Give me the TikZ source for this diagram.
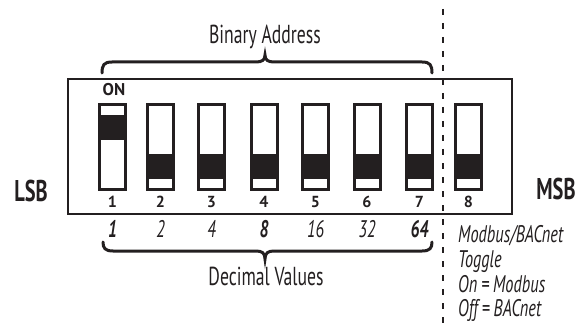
\documentclass[tikz,border=0pt]{standalone}
\usepackage{fontspec}
\setmainfont{PT Sans}[FakeStretch=0.68]
\newfontfamily\wideface{PT Sans}
\definecolor{ink}{HTML}{231F20}
\begin{document}
\begin{tikzpicture}[x=1pt,y=-1pt,
  outline/.style={draw=ink, line width=2},
  sw/.style={draw=ink, line width=2, minimum width=25, minimum height=84, inner sep=0, fill=white},
  blk/.style={fill=ink},
  brace/.style={draw=ink, line width=3, line cap=round},
  divider/.style={draw=ink, line width=2, dash pattern=on 6 off 8},
  num/.style={text=ink, inner sep=0, anchor=base, font=\wideface\bfseries\fontsize{16}{18}\selectfont},
  val/.style={text=ink, inner sep=0, anchor=base, font=\itshape\fontsize{24}{26}\selectfont},
  note/.style={text=ink, inner sep=0, anchor=base west, font=\itshape\fontsize{24}{28}\selectfont},
  title/.style={text=ink, inner sep=0, anchor=base, font=\fontsize{26}{30}\selectfont},
  side/.style={text=ink, inner sep=0, anchor=base, font=\bfseries\fontsize{30}{34}\selectfont}]
\useasboundingbox (0,0) rectangle (577,323);
% outer box
\node[outline, minimum width=444, minimum height=135, inner sep=0] (box) at (290,146.5) {};
% switches
\foreach \i/\x in {1/112.5,2/160.5,3/211.5,4/264,5/315.5,6/367,7/419.5,8/468.5} {
  \node[sw] (s\i) at (\x,147) {};
  \node[num] (n\i) at (\x,207) {\i};
}
\fill[blk] (s1.west |- 0,115) rectangle (s1.east |- 0,140);
\foreach \i in {2,...,8} {
  \fill[blk] (s\i.west |- 0,154) rectangle (s\i.east |- 0,179);
}
\foreach \i in {1,...,8} { \draw[ink, line width=2] (s\i.south west) rectangle (s\i.north east); }
\node[num, font=\wideface\bfseries\fontsize{17}{19}\selectfont] (on) at (114,96) {ON};
% side labels
\node[side] (lsb) at (31,201) {LSB};
\node[side] (msb) at (556,199) {MSB};
% top brace
\node[title] (binary) at (265,44) {Binary Address};
\draw[brace] (102,73) .. controls (102,65) and (104,62) .. (112,62) -- (256,62)
  .. controls (262,62) and (265,60) .. (265,55)
  .. controls (265,60) and (268,62) .. (274,62) -- (422,62)
  .. controls (430,62) and (432,65) .. (432,73);
% decimal values
\node[val] (v1) at (112.5,237) {\bfseries 1};
\node[val] (v2) at (160.5,237) {2};
\node[val] (v3) at (211.5,237) {4};
\node[val] (v4) at (264,237) {\bfseries 8};
\node[val] (v5) at (315.5,237) {16};
\node[val] (v6) at (367,237) {32};
\node[val] (v7) at (419.5,237) {\bfseries 64};
\draw[brace] (103,242) .. controls (103,248) and (105,251) .. (113,251) -- (256,251)
  .. controls (262,251) and (265,253) .. (265,259)
  .. controls (265,253) and (268,251) .. (274,251) -- (422,251)
  .. controls (430,251) and (432,248) .. (432,242);
\node[title] (decimal) at (266,285) {Decimal Values};
% divider
\coordinate (dtop) at (443,9);
\coordinate (dbot) at (443,323);
\draw[divider] (dtop) -- (dbot);
% note
\node[note] (t1) at (458,242) {Modbus/BACnet};
\node[note] (t2) at (458,267) {Toggle};
\node[note] (t3) at (458,292) {On\,=\,Modbus};
\node[note] (t4) at (458,316) {Off\,=\,BACnet};
\end{tikzpicture}
\end{document}
